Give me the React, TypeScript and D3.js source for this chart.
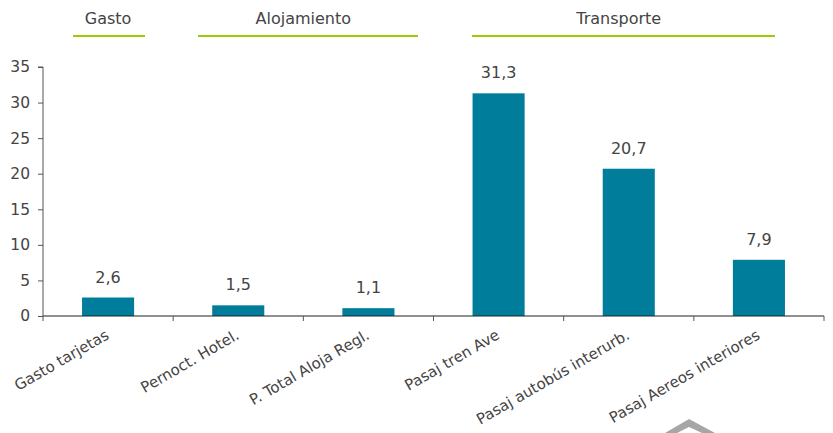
import React, {useEffect, useRef} from "react";
import * as d3 from "d3";

const categories = ["Gasto tarjetas", "Pernoct. Hotel.", "P. Total Aloja Regl.", "Pasaj tren Ave", "Pasaj autobús interurb.", "Pasaj Aereos interiores"];
const values = [2.6, 1.5, 1.1, 31.3, 20.7, 7.9];
const yTicks = [0, 5, 10, 15, 20, 25, 30, 35];
const groups = ["Gasto", "Alojamiento", "Transporte"];
const groupStart = [0, 1, 3];
const groupEnd = [1, 3, 6];

const FONT = "'DejaVu Sans', sans-serif";
const TEXT = "#444";

function App() {
    const ref = useRef<SVGSVGElement>(null);

    useEffect(() => {
        const svg = d3.select(ref.current);
        svg.selectAll("*").remove();
        const left = 43, right = 824, top = 67, bottom = 316;

        const x = d3.scaleBand<string>()
            .domain(categories)
            .range([left, right])
            .paddingInner(0.6)
            .paddingOuter(0.3);
        const y = d3.scaleLinear().domain([0, 35]).range([bottom, top]);
        const step = x.step();
        const boundary = (i: number) => left + i * step;

        // group headers
        const hdr = svg.append("g");
        const lineSpans = [[73, 145], [198, 418], [472, 775]];
        groups.forEach((g, i) => {
            const cx = (boundary(groupStart[i]) + boundary(groupEnd[i])) / 2;
            hdr.append("text")
                .attr("x", cx + (i === 2 ? -10 : 0))
                .attr("y", 24)
                .attr("text-anchor", "middle")
                .attr("font-family", FONT)
                .attr("font-size", 16)
                .attr("fill", TEXT)
                .text(g);
            hdr.append("line")
                .attr("x1", lineSpans[i][0]).attr("x2", lineSpans[i][1])
                .attr("y1", 36).attr("y2", 36)
                .attr("stroke", "#9acd00").attr("stroke-width", 2);
        });

        // y axis
        const yAxis = svg.append("g")
            .attr("transform", `translate(${left},0)`)
            .call(d3.axisLeft(y).tickValues(yTicks).tickSize(5).tickPadding(8));
        yAxis.select(".domain").attr("stroke", "#555").attr("d", `M-5,${top}H0V${bottom}`);
        yAxis.selectAll(".tick line").attr("stroke", "#555");
        yAxis.selectAll("text")
            .attr("font-family", FONT)
            .attr("font-size", 15.5).attr("fill", TEXT);

        // bars
        svg.append("g").selectAll("rect")
            .data(values)
            .enter()
            .append("rect")
            .attr("x", (_d, i) => x(categories[i])!)
            .attr("width", x.bandwidth())
            .attr("y", d => y(d))
            .attr("height", d => y(0) - y(d))
            .attr("fill", "#007d9a");

        // value labels
        svg.append("g").selectAll("text")
            .data(values)
            .enter()
            .append("text")
            .attr("x", (_d, i) => x(categories[i])! + x.bandwidth() / 2)
            .attr("y", d => y(d) - 15)
            .attr("text-anchor", "middle")
            .attr("font-family", FONT)
            .attr("font-size", 16)
            .attr("fill", TEXT)
            .text(d => d3.format(".1f")(d).replace(".", ","));

        // x axis
        svg.append("line")
            .attr("x1", left).attr("x2", right)
            .attr("y1", bottom).attr("y2", bottom)
            .attr("stroke", "#222").attr("stroke-width", 1.2);
        svg.append("g").selectAll("line")
            .data(d3.range(categories.length + 1))
            .enter()
            .append("line")
            .attr("x1", i => boundary(i)).attr("x2", i => boundary(i))
            .attr("y1", bottom).attr("y2", bottom + 5)
            .attr("stroke", "#555");

        svg.append("g").selectAll("text")
            .data(categories)
            .enter()
            .append("text")
            .attr("transform", d => `translate(${x(d)! + x.bandwidth() / 2 + 2},${bottom + 22}) rotate(-30)`)
            .attr("text-anchor", "end")
            .attr("font-family", FONT)
            .attr("font-size", 15)
            .attr("fill", TEXT)
            .text(d => d);

        // partial logo at bottom
        svg.append("path")
            .attr("d", "M665,433 L689,419 L715,433 L702,433 L689,427 L677,433 Z")
            .attr("fill", "#a6a6a6");
    }, []);

    return (
        <svg ref={ref} width={833} height={433}
             style={{position: "absolute", left: 0, top: 0, background: "#fff"}}></svg>
    );
}

export default App;
